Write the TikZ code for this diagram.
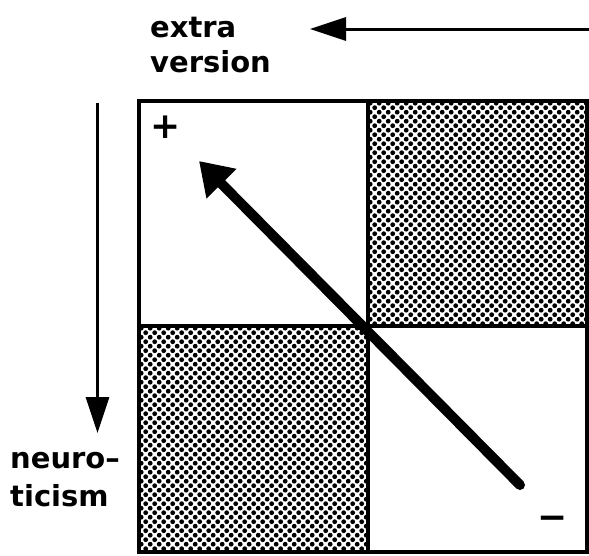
\documentclass[tikz,border=0pt]{standalone}
\usepackage{fontspec}
\setmainfont{DejaVu Sans}
\usetikzlibrary{arrows.meta}
\tikzset{
  lbl/.style={font=\bfseries\fontsize{29}{34}\selectfont, inner sep=0pt, anchor=base west},
  sign/.style={font=\bfseries\fontsize{36}{36}\selectfont, inner sep=0pt},
  frameline/.style={line width=4pt},
  axisarrow/.style={line width=3pt, -{Triangle[length=36pt,width=23pt]}},
  mainarrow/.style={line width=10pt, line cap=round, -{Triangle[length=32pt,width=40pt]}},
}
\begin{document}
\begin{tikzpicture}[x=1pt,y=-1pt]
\useasboundingbox (0,0) rectangle (589,555);
% corners of the box
\coordinate (tl) at (139,101);
\coordinate (br) at (587,552);
% dotted quadrants
\begin{scope}
  \clip (368,101) rectangle (587,326);
  \fill \foreach \i in {0,...,25} { \foreach \j in {0,...,26} {
      (368+2.2+\i*9, 101+2.2+\j*9) circle (2.4)
      (368+6.7+\i*9, 101+6.7+\j*9) circle (2.4) } };
\end{scope}
\begin{scope}
  \clip (139,326) rectangle (368,552);
  \fill \foreach \i in {0,...,26} { \foreach \j in {0,...,26} {
      (139+2.2+\i*9, 326+2.2+\j*9) circle (2.4)
      (139+6.7+\i*9, 326+6.7+\j*9) circle (2.4) } };
\end{scope}
% frame
\draw[frameline] (tl) rectangle (br);
\draw[frameline] (368,101) -- (368,552);
\draw[frameline] (139,326) -- (587,326);
% axis arrows
\coordinate (topR) at (589,29);
\coordinate (topTip) at (310,29);
\draw[axisarrow] (topR) -- (topTip);
\coordinate (leftTop) at (97.5,103);
\coordinate (leftTip) at (97.5,433);
\draw[axisarrow] (leftTop) -- (leftTip);
% labels
\node[lbl] (ex1) at (150,37) {extra};
\node[lbl] (ex2) at (150,72) {version};
\node[lbl] (ne1) at (10,468) {neuro–};
\node[lbl] (ne2) at (10,506) {ticism};
\node[sign] (plus) at (166,127) {+};
\node[sign] (minus) at (553,523) {−};
% main arrow
\coordinate (arrS) at (520,485);
\coordinate (arrE) at (199,161);
\draw[mainarrow] (arrS) -- (arrE);
\end{tikzpicture}
\end{document}
